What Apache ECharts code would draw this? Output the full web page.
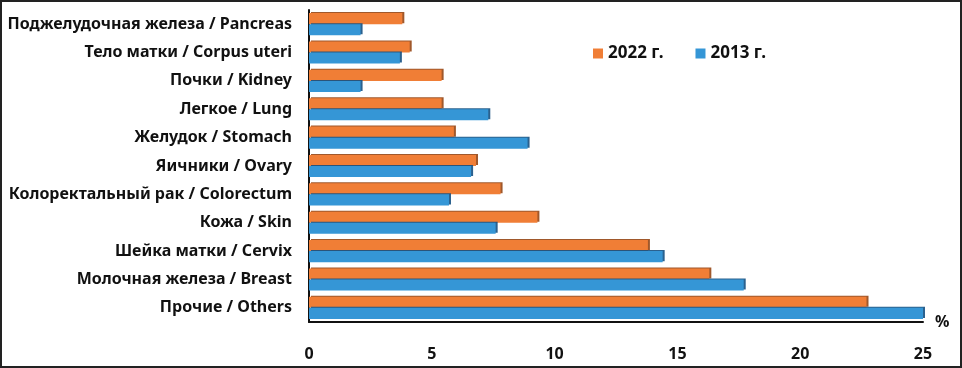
<!DOCTYPE html>
<html>
<head>
<meta charset="utf-8">
<script src="https://cdn.jsdelivr.net/npm/echarts@6/dist/echarts.min.js"></script>
<style>
  html, body { margin: 0; padding: 0; background: #fff; }
  #chart { width: 962px; height: 368px; box-sizing: border-box; border: 2px solid #222; }
</style>
</head>
<body>
<div id="chart"></div>
<script>
// категории сверху вниз
const categories = [
  "Поджелудочная железа / Pancreas",
  "Тело матки / Corpus uteri",
  "Почки / Kidney",
  "Легкое / Lung",
  "Желудок / Stomach",
  "Яичники / Ovary",
  "Колоректальный рак / Colorectum",
  "Кожа / Skin",
  "Шейка матки / Cervix",
  "Молочная железа / Breast",
  "Прочие / Others"
];
const values2022 = [3.8, 4.1, 5.4, 5.4, 5.9, 6.8, 7.8, 9.3, 13.8, 16.3, 22.7];
const values2013 = [2.1, 3.7, 2.1, 7.3, 8.9, 6.6, 5.7, 7.6, 14.4, 17.7, 25.0];
const xTicks = [0, 5, 10, 15, 20, 25];

const chart = echarts.init(document.getElementById("chart"));
const font = "'Noto Sans', sans-serif";

const option = {
  animation: false,
  textStyle: { fontFamily: font },
  grid: { left: 307, right: 37, top: 8, bottom: 44, containLabel: false },
  legend: {
    data: ["2022 г.", "2013 г."],
    left: 586,
    top: 38,
    itemWidth: 10,
    itemHeight: 10,
    itemGap: 32,
    icon: "rect",
    itemStyle: { borderWidth: 0, shadowBlur: 0, shadowOffsetX: 0, shadowOffsetY: 0, shadowColor: "transparent" },
    textStyle: { fontWeight: "bold", fontSize: 17, color: "#111", fontFamily: font }
  },
  xAxis: {
    type: "value",
    min: xTicks[0],
    max: xTicks[xTicks.length - 1],
    interval: 5,
    name: "%",
    nameLocation: "end",
    nameGap: 12,
    nameTextStyle: { fontWeight: "bold", fontSize: 16, color: "#111", verticalAlign: "middle" },
    axisLine: { show: true, lineStyle: { color: "#111", width: 2 } },
    axisTick: { show: false },
    splitLine: { show: false },
    axisLabel: { margin: 24, fontWeight: "bold", fontSize: 16, color: "#111" }
  },
  yAxis: {
    type: "category",
    data: categories,
    inverse: true,
    axisLine: { show: true, lineStyle: { color: "#111", width: 2 } },
    axisTick: { show: false },
    axisLabel: { margin: 17, fontWeight: "bold", fontSize: 16, color: "#111" }
  },
  series: [
    {
      name: "2022 г.",
      type: "bar",
      data: values2022,
      barGap: "0%",
      barCategoryGap: "22%",
      itemStyle: {
        color: "#F07E36",
        shadowColor: "rgba(150,70,20,0.9)",
        shadowOffsetX: 2,
        shadowOffsetY: -1
      }
    },
    {
      name: "2013 г.",
      type: "bar",
      data: values2013,
      itemStyle: {
        color: "#3596D6",
        shadowColor: "rgba(20,80,130,0.9)",
        shadowOffsetX: 2,
        shadowOffsetY: -1
      }
    }
  ]
};

chart.setOption(option);
window.addEventListener("resize", () => chart.resize());
</script>
</body>
</html>
